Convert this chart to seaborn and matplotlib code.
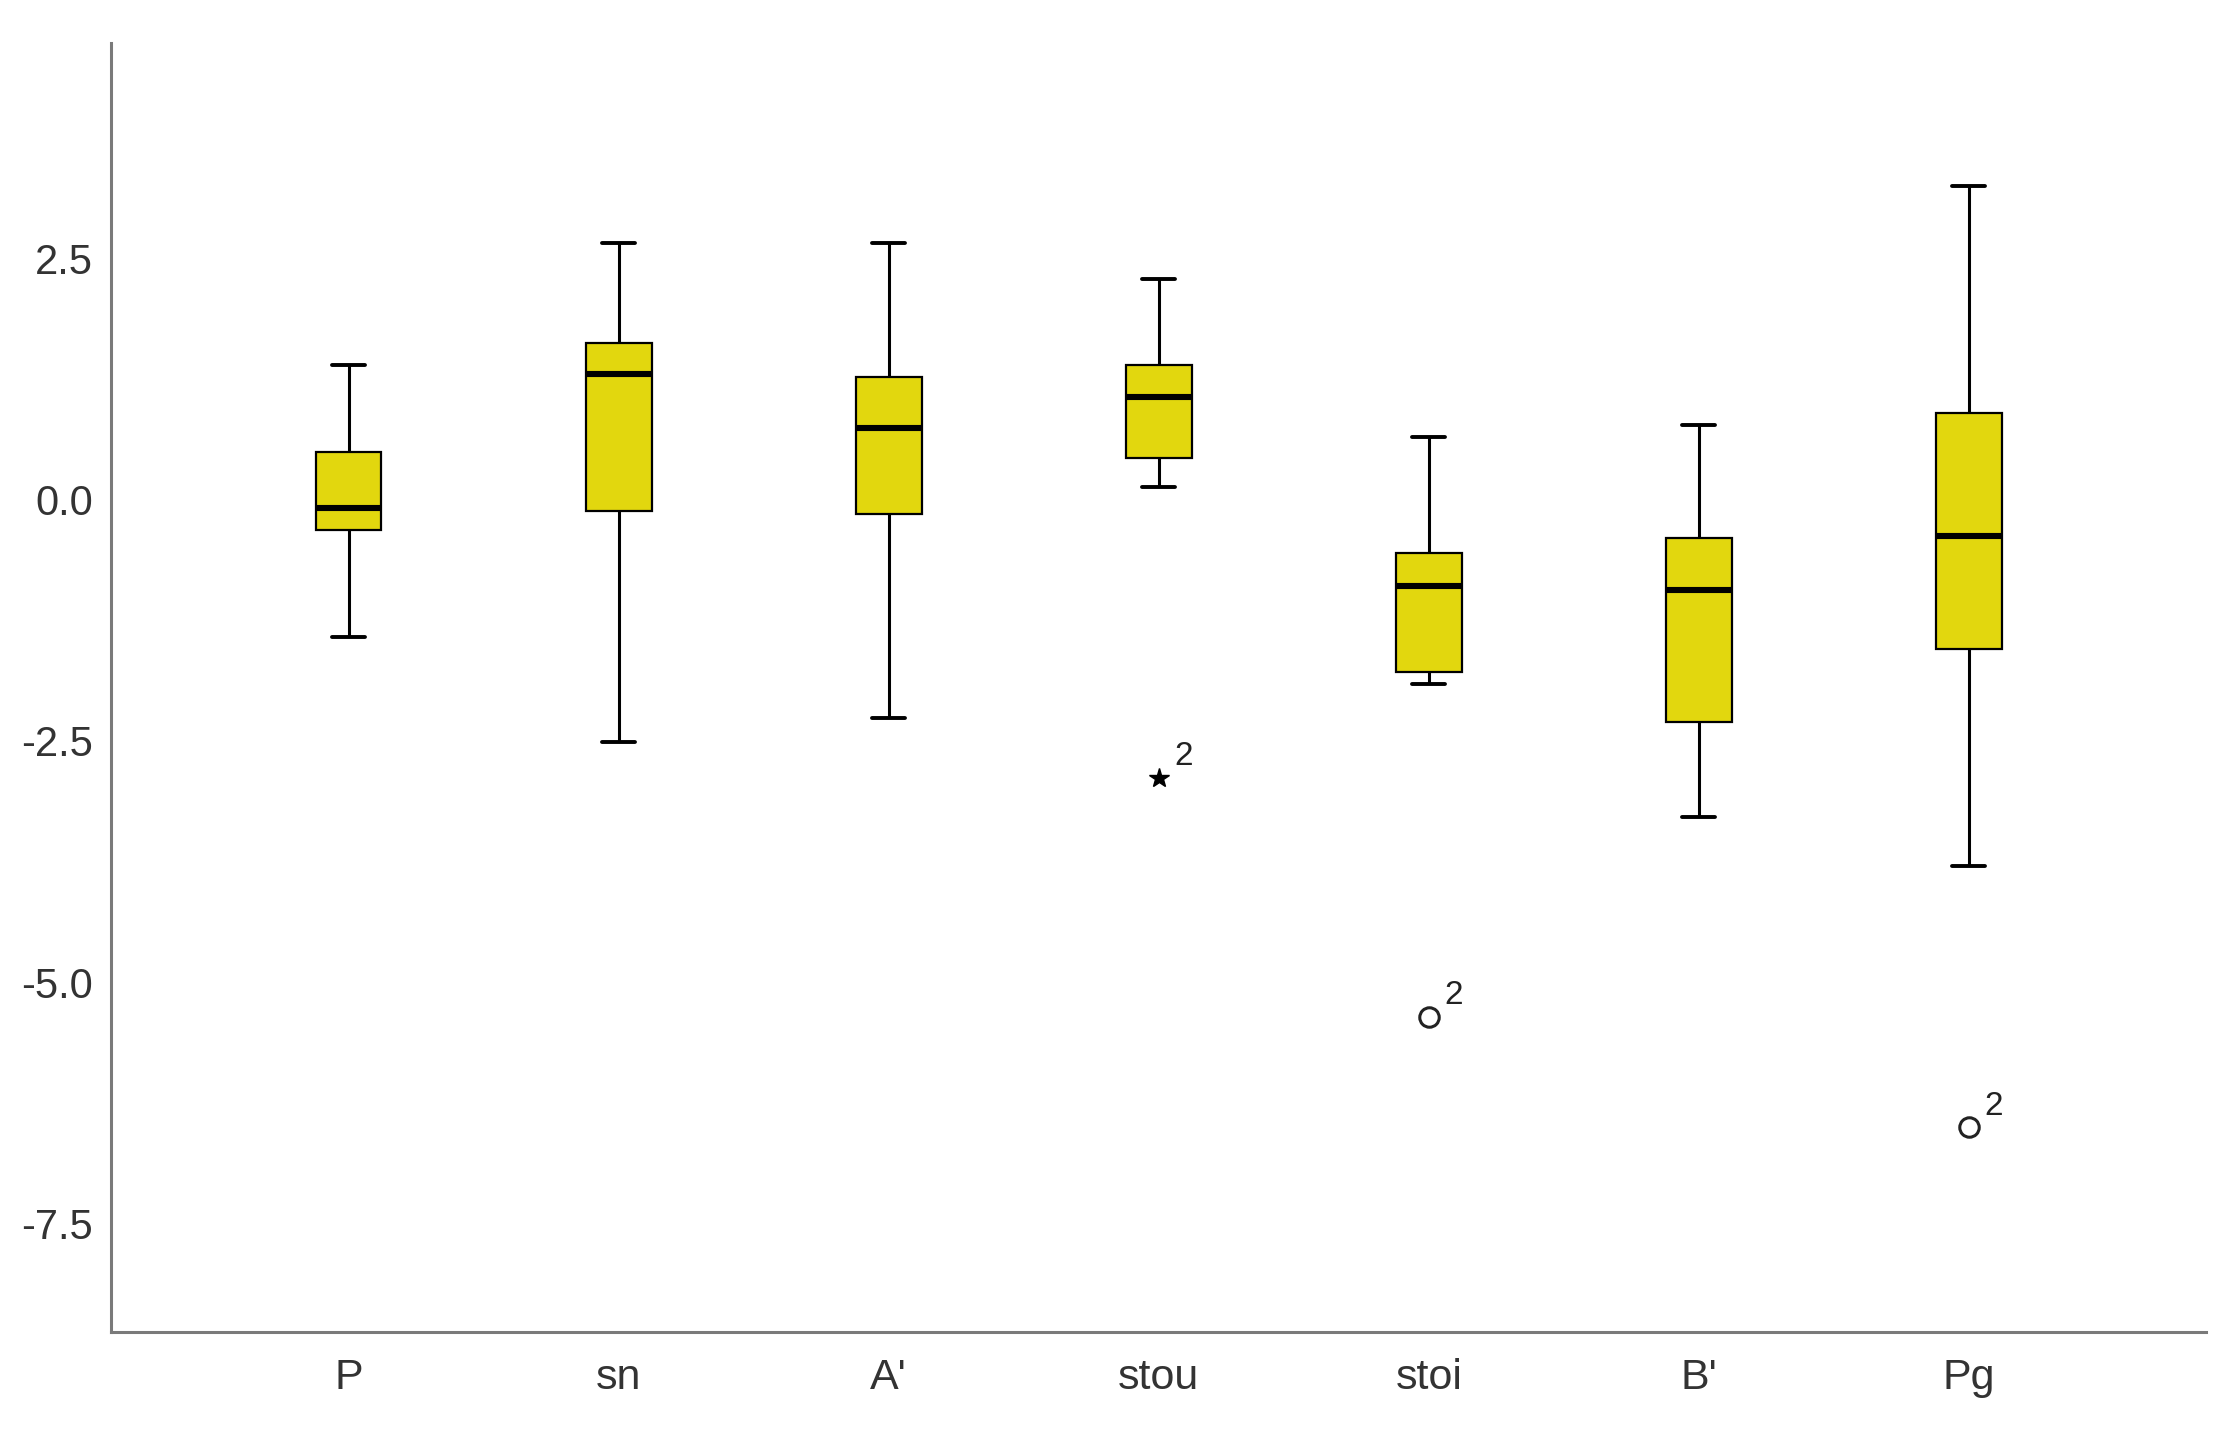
import numpy as np
import pandas as pd
import seaborn as sns
import matplotlib.pyplot as plt

categories = ["P", "sn", "A'", "stou", "stoi", "B'", "Pg"]
lower_whisker = [-1.42, -2.51, -2.26, 0.13, -1.91, -3.29, -3.80]
q1 = [-0.32, -0.12, -0.15, 0.43, -1.79, -2.30, -1.55]
median = [-0.09, 1.30, 0.74, 1.06, -0.90, -0.94, -0.38]
q3 = [0.49, 1.62, 1.27, 1.39, -0.55, -0.40, 0.90]
upper_whisker = [1.39, 2.66, 2.66, 2.28, 0.65, 0.77, 3.25]

# outlying cases (SPSS style: o = outlier, * = extreme)
outlier_cat = ["stou", "stoi", "Pg"]
outlier_val = [-2.88, -5.36, -6.50]
outlier_kind = ["extreme", "outlier", "outlier"]
outlier_case = ["2", "2", "2"]

yticks = [2.5, 0.0, -2.5, -5.0, -7.5]

# five-number summary per variable -> long table for seaborn
rows = []
for i, c in enumerate(categories):
    for v in (lower_whisker[i], q1[i], median[i], q3[i], upper_whisker[i]):
        rows.append({"variable": c, "value": v})
df = pd.DataFrame(rows)

sns.set_theme(style="white")
plt.rcParams['font.family'] = ['Liberation Sans', 'DejaVu Sans']

fig = plt.figure(figsize=(22.35, 14.4), dpi=100)
ax = fig.add_axes([0.0497, 0.0752, 0.9375, 0.895])

sns.boxplot(data=df, x="variable", y="value", order=categories, whis=np.inf,
            color="#E2D70E", saturation=1, width=0.243, linecolor="black",
            linewidth=1.6, ax=ax,
            medianprops={"linewidth": 4.4, "color": "black"},
            whiskerprops={"linewidth": 2.2},
            capprops={"linewidth": 2.8})

for c, v, k, lab in zip(outlier_cat, outlier_val, outlier_kind, outlier_case):
    xpos = categories.index(c)
    if k == "extreme":
        ax.plot(xpos, v, marker="*", markersize=15, color="black", linestyle="none")
    else:
        ax.plot(xpos, v, marker="o", markersize=14, markerfacecolor="white",
                markeredgecolor="#222222", markeredgewidth=2.2, linestyle="none")
    ax.annotate(lab, (xpos, v), xytext=(11, 9), textcoords="offset points",
                fontsize=24, color="#222222", ha="left", va="baseline")

ax.set_xlim(-0.88, 6.88)
ax.set_ylim(-8.62, 4.73)
ax.set_yticks(yticks)
ax.set_yticklabels([f"{t:.1f}" for t in yticks])
ax.set_xlabel("")
ax.set_ylabel("")
ax.tick_params(axis="both", length=0, colors="#333333")
ax.tick_params(axis="y", pad=13, labelsize=30)
ax.tick_params(axis="x", pad=19, labelsize=31)

sns.despine(ax=ax)
for s in ("left", "bottom"):
    ax.spines[s].set_color("#7a7a7a")
    ax.spines[s].set_linewidth(2.2)

fig.savefig("out.png", dpi=100)
